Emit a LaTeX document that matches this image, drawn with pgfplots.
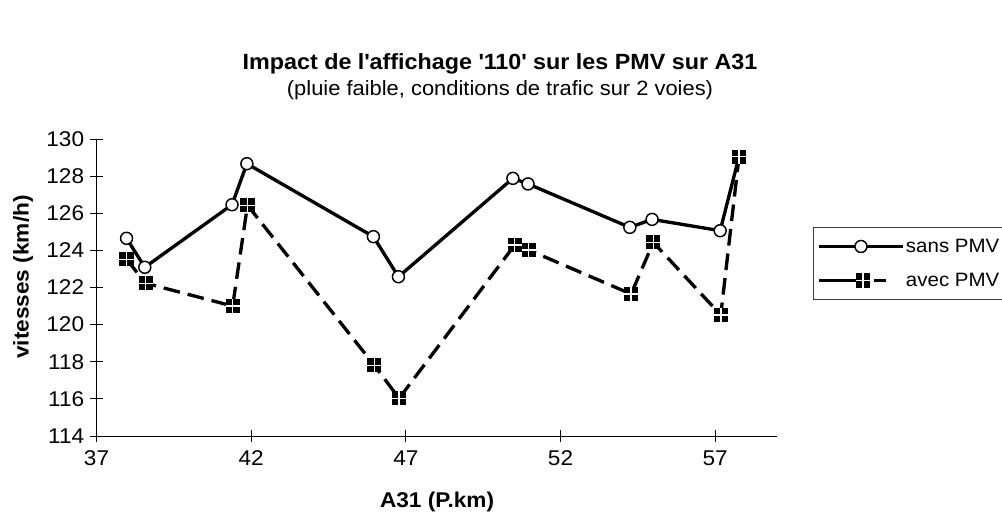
\documentclass[border=0pt]{standalone}
\usepackage{fontspec}
\setmainfont{Liberation Sans}[FakeStretch=1.06]
\usepackage{pgfplots}
\pgfplotsset{compat=1.18}

\pgfdeclareplotmark{crosssq}{%
  \begin{pgfscope}%
  \pgfsetfillcolor{black}%
  \pgfpathrectangle{\pgfqpoint{-\pgfplotmarksize}{-\pgfplotmarksize}}{\pgfqpoint{2\pgfplotmarksize}{2\pgfplotmarksize}}%
  \pgfusepathqfill
  \pgfsetstrokecolor{white}%
  \pgfsetlinewidth{1.1pt}%
  \pgfsetdash{}{0pt}%
  \pgfpathmoveto{\pgfqpoint{-\pgfplotmarksize}{0pt}}\pgfpathlineto{\pgfqpoint{\pgfplotmarksize}{0pt}}%
  \pgfpathmoveto{\pgfqpoint{0pt}{-\pgfplotmarksize}}\pgfpathlineto{\pgfqpoint{0pt}{\pgfplotmarksize}}%
  \pgfusepathqstroke
  \end{pgfscope}%
}

\pgfplotsset{
  sansleg/.style={legend image code/.code={\draw[##1, mark repeat=2, mark phase=2] plot coordinates {(0pt,0pt)(31.5pt,0pt)(63pt,0pt)};}},
  avecleg/.style={legend image code/.code={%
    \draw[##1, solid, mark=none] (0pt,0pt) -- (28pt,0pt);
    \draw[##1, solid, mark=none] (41pt,0pt) -- (50pt,0pt);
    \draw[##1, only marks] plot coordinates {(33pt,0pt)};}},
}

\pgfplotstableread{
x y
37.97 124.65
38.56 123.09
41.38 126.46
41.86 128.67
45.95 124.74
46.76 122.58
50.46 127.88
50.95 127.58
54.24 125.24
54.96 125.67
57.16 125.06
57.77 129.05
}\sansdata
\pgfplotstableread{
x y
37.97 123.52
38.59 122.23
41.40 121.00
41.88 126.43
45.98 117.81
46.78 116.03
50.52 124.29
50.97 124.02
54.28 121.65
55.00 124.43
57.18 120.52
57.77 129.05
}\avecdata

\begin{document}
\begin{tikzpicture}
\useasboundingbox (-72.4pt,-64.5pt) rectangle (679.1pt,327pt);
\begin{axis}[
  at={(0pt,0pt)}, anchor=south west,
  scale only axis, width=510.4pt, height=222.75pt,
  xmin=37, xmax=59, ymin=114, ymax=130,
  xtick={37,42,47,52,57}, ytick={114,116,...,130},
  axis lines=left, axis line style={-, black, line width=0.75pt},
  tick align=center, major tick length=9.5pt,
  tick style={black, line width=0.75pt},
  clip=false,
  /pgf/number format/assume math mode=true,
  ticklabel style={font=\fontsize{16}{19}\selectfont},
  xticklabel style={yshift=-3pt},
  yticklabel style={xshift=-1pt},
  legend style={at={(1.0525,0.7037)}, anchor=north west,
    draw=black!75, line width=0.75pt, inner xsep=3pt, inner ysep=7.5pt,
    font=\fontsize{14.5}{17}\selectfont, row sep=12pt,
    nodes={inner sep=1pt}},
  legend cell align=left,
]
\addplot[black, line width=2.5pt, mark=*, mark size=4.5pt,
  mark options={solid, fill=white, draw=black, line width=1.1pt}, sansleg]
  table[x=x,y=y] {\sansdata};
\addlegendentry{sans PMV}
\addplot[black, line width=2.5pt, dash pattern=on 12.5pt off 6pt, mark=crosssq, mark size=5.3pt,
  mark options={solid}, avecleg]
  table[x=x,y=y] {\avecdata};
\addlegendentry{avec PMV}
\end{axis}
\node[font=\bfseries\fontsize{16.5}{19}\selectfont] at (302.6pt,279pt) {Impact de l\textquotesingle affichage \textquotesingle 110\textquotesingle{} sur les PMV sur A31};
\node[font=\fontsize{15.5}{19}\selectfont] at (302.6pt,259.5pt) {(pluie faible, conditions de trafic sur 2 voies)};
\node[font=\bfseries\fontsize{16}{19}\selectfont] at (255.4pt,-49.5pt) {A31 (P.km)};
\node[font=\bfseries\fontsize{16}{19}\selectfont, rotate=90] at (-55pt,119.25pt) {vitesses (km/h)};
\end{tikzpicture}
\end{document}
